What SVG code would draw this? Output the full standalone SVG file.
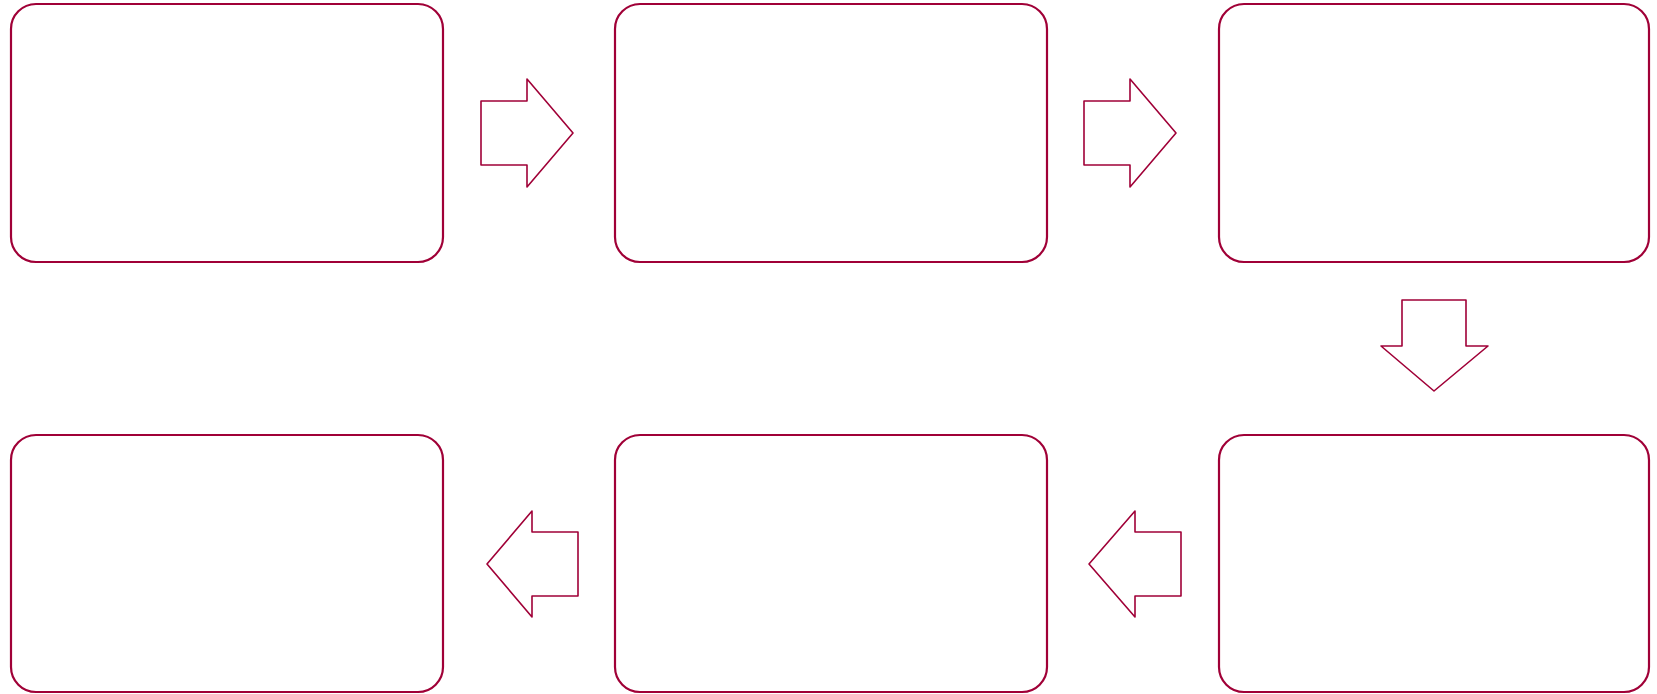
<svg xmlns="http://www.w3.org/2000/svg" width="1657" height="694" viewBox="0 0 1657 694">
<style>
.box{fill:#ffffff;stroke:#A00037;stroke-width:2.2}
.arr{fill:#ffffff;stroke:#A00037;stroke-width:1.6;stroke-linejoin:round}
</style>
<rect width="1657" height="694" fill="#ffffff"/>
<g id="node1"><rect class="box" x="11" y="4" width="432" height="258" rx="25" ry="25"/></g>
<g id="node2"><rect class="box" x="615" y="4" width="432" height="258" rx="25" ry="25"/></g>
<g id="node3"><rect class="box" x="1219" y="4" width="430" height="258" rx="25" ry="25"/></g>
<g id="node4"><rect class="box" x="1219" y="435" width="430" height="257" rx="25" ry="25"/></g>
<g id="node5"><rect class="box" x="615" y="435" width="432" height="257" rx="25" ry="25"/></g>
<g id="node6"><rect class="box" x="11" y="435" width="432" height="257" rx="25" ry="25"/></g>
<g id="connectors">
<polygon class="arr" points="481,101 527,101 527,79 573,133 527,187 527,165 481,165"/>
<polygon class="arr" points="1084,101 1130,101 1130,79 1176,133 1130,187 1130,165 1084,165"/>
<polygon class="arr" points="1402,300 1466,300 1466,346 1488,346 1434,391 1381,346 1402,346"/>
<polygon class="arr" points="1181,532 1135,532 1135,511 1089,564 1135,617 1135,596 1181,596"/>
<polygon class="arr" points="578,532 532,532 532,511 487,564 532,617 532,596 578,596"/>
</g>
</svg>
